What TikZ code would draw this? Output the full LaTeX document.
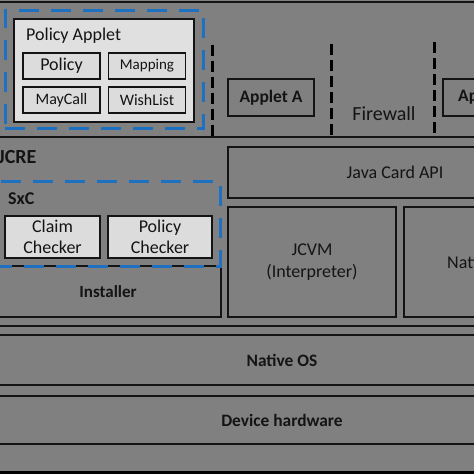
\documentclass[tikz,border=0pt]{standalone}
\usepackage{fontspec}
\setmainfont{Carlito}
\definecolor{bg}{HTML}{808080}
\definecolor{lite}{HTML}{E0E0E0}
\definecolor{lite2}{HTML}{DCDCDC}
\definecolor{ink}{HTML}{141414}
\definecolor{bluedash}{HTML}{1E70C0}
\tikzset{
  x=1pt,y=-1pt,
  layer/.style={draw=ink,line width=1.3pt,fill=none,inner sep=0pt,text=ink},
  litebox/.style={draw=ink,line width=1.3pt,fill=lite,inner sep=0pt,text=ink},
  smallbox/.style={draw=ink,line width=1.3pt,fill=lite2,inner sep=0pt,text=ink,minimum width=77pt,minimum height=26pt},
  bluebox/.style={draw=bluedash,line width=3pt,dash pattern=on 20pt off 12pt,fill=none,inner sep=0pt},
  fw/.style={draw=black,line width=3pt,dash pattern=on 11pt off 5pt},
  lbl/.style={text=ink,inner sep=0pt},
}
\newcommand{\fs}[1]{\fontsize{#1}{#1}\selectfont}
\begin{document}
\begin{tikzpicture}
\useasboundingbox (0,0) rectangle (474,474);
\fill[bg] (0,0) rectangle (474,474);
\clip (0,0) rectangle (474,474);
% layers
\node[layer,minimum width=590pt,minimum height=135pt] (applets) at (282,69.5) {};
\node[layer,minimum width=590pt,minimum height=189pt] (jcre) at (282,231.5) {};
\node[layer,minimum width=590pt,minimum height=50pt,font=\bfseries\fs{17.4}] (nos) at (282,360) {Native OS};
\node[layer,minimum width=590pt,minimum height=48pt,font=\bfseries\fs{17.4}] (hw) at (282,420) {Device hardware};
\fill[black] (0,471) rectangle (474,474);
% applet layer
\node[bluebox,minimum width=198pt,minimum height=118pt] (pabox) at (104,69) {};
\node[litebox,minimum width=180pt,minimum height=103pt] (pa) at (104,70.5) {};
\node[lbl,anchor=west,font=\fs{18}] (patitle) at (26,36) {Policy Applet};
\node[smallbox,font=\fs{18}] (policy) at (61.5,66) {Policy};
\node[smallbox,font=\fs{15}] (mapping) at (147,66) {Mapping};
\node[smallbox,font=\fs{16}] (maycall) at (61.5,100) {MayCall};
\node[smallbox,font=\fs{16}] (wishlist) at (147,100) {WishList};
\node[layer,minimum width=86pt,minimum height=37pt,font=\bfseries\fs{17.5}] (appa) at (271,97.5) {Applet A};
\node[layer,minimum width=90pt,minimum height=37pt] (appb) at (488,97.5) {};
\node[lbl,anchor=west,font=\bfseries\fs{17.5}] (appbt) at (458,97.5) {Ap};
\node[lbl,font=\fs{20}] (firewall) at (384,114) {Firewall};
\draw[fw] (212,45) -- (212,137);
\draw[fw] (331,44) -- (331,137);
\draw[fw] (434,42) -- (434,135);
% JCRE
\node[lbl,anchor=west,font=\bfseries\fs{20}] (jcret) at (-2,157.5) {JCRE};
\node[layer,minimum width=334pt,minimum height=51pt,font=\fs{18}] (api) at (395,172.5) {Java Card API};
\node[layer,minimum width=226pt,minimum height=51pt,font=\bfseries\fs{17}] (inst) at (108,291.5) {Installer};
\node[bluebox,minimum width=228pt,minimum height=85pt] (sxc) at (106,223.5) {};
\node[lbl,anchor=west,font=\bfseries\fs{18}] (sxct) at (8,199) {SxC};
\node[smallbox,minimum width=95pt,minimum height=42pt,align=center,font=\fs{18}] (claim) at (52.5,237) {Claim\\[3pt]Checker};
\node[smallbox,minimum width=104pt,minimum height=42pt,align=center,font=\fs{18}] (pchk) at (160,237) {Policy\\[3pt]Checker};
\node[layer,minimum width=168pt,minimum height=110pt,align=center,font=\fs{18}] (jcvm) at (312,262) {JCVM\\[4pt](Interpreter)};
\node[layer,minimum width=160pt,minimum height=110pt] (native) at (484,262) {};
\node[lbl,anchor=west,font=\fs{18}] (nativet) at (447,262) {Nati};
\end{tikzpicture}
\end{document}
